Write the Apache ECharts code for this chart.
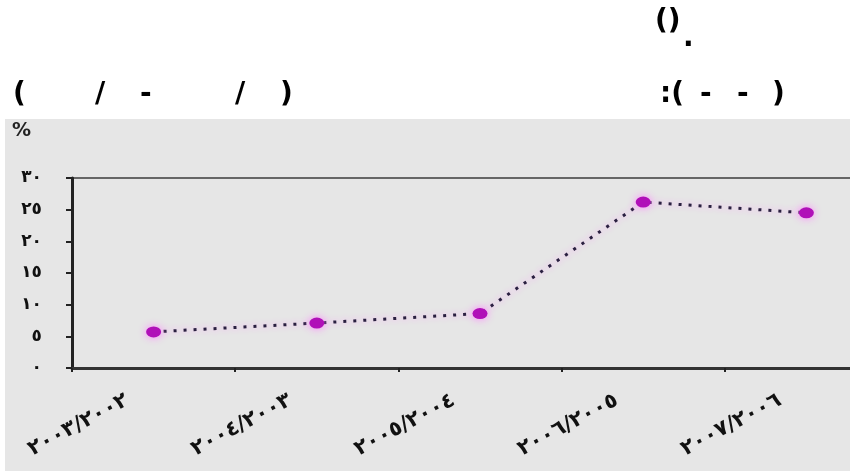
<!DOCTYPE html>
<html>
<head>
<meta charset="utf-8">
<script src="https://cdn.jsdelivr.net/npm/echarts@6/dist/echarts.min.js"></script>
<style>html,body{margin:0;padding:0;background:#fff;}#chart{width:850px;height:471px;}</style>
</head>
<body>
<div id="chart"></div>
<script>
var categories = ['٢٠٠٣/٢٠٠٢', '٢٠٠٤/٢٠٠٣', '٢٠٠٥/٢٠٠٤', '٢٠٠٦/٢٠٠٥', '٢٠٠٧/٢٠٠٦'];
var values = [5.7, 7.1, 8.6, 26.2, 24.5];
var yTickValues = [0, 5, 10, 15, 20, 25, 30];
var yTickLabels = ['٠', '٥', '١٠', '١٥', '٢٠', '٢٥', '٣٠'];
var unitLabel = '%';
var titleTexts = [
  {t: '()', x: 655, y: 22},
  {t: '.', x: 683, y: 39},
  {t: '(', x: 13, y: 95},
  {t: '/', x: 95, y: 95},
  {t: '-', x: 140, y: 95},
  {t: '/', x: 235, y: 95},
  {t: ')', x: 280, y: 95},
  {t: ':(', x: 660, y: 95},
  {t: '-', x: 700, y: 95},
  {t: '-', x: 737, y: 95},
  {t: ')', x: 772, y: 95}
];

var chart = echarts.init(document.getElementById('chart'), null, {renderer: 'canvas'});
var graphics = [{
  type: 'rect', z: -10, silent: true,
  shape: {x: 5, y: 119, width: 845, height: 352},
  style: {fill: '#e6e6e6'}
}, {
  type: 'text', left: 12, top: 122,
  style: {text: unitLabel, font: 'bold 19px "DejaVu Sans"', fill: '#222'}
}];
titleTexts.forEach(function (o) {
  graphics.push({
    type: 'text', x: o.x, y: o.y,
    style: {text: o.t, font: 'bold 28px "DejaVu Sans"', fill: '#000', verticalAlign: 'middle'}
  });
});

chart.setOption({
  animation: false,
  backgroundColor: '#ffffff',
  graphic: graphics,
  grid: {left: 72, width: 816, top: 178, height: 190, outerBoundsMode: 'none', containLabel: false,
    show: true, borderColor: '#666', borderWidth: 2, backgroundColor: 'transparent'},
  xAxis: {
    type: 'category', data: categories, boundaryGap: true,
    axisLine: {lineStyle: {color: '#333', width: 3}},
    axisTick: {show: true, length: 4, lineStyle: {color: '#222', width: 2}},
    axisLabel: {rotate: 28, margin: 17, padding: [0, 30, 0, 0], interval: 0,
      fontSize: 21, fontWeight: 'bold', fontFamily: 'DejaVu Sans', color: '#111'}
  },
  yAxis: {
    type: 'value', min: 0, max: 30, interval: 5,
    axisLine: {show: true, lineStyle: {color: '#222', width: 3}},
    axisTick: {show: true, length: 6, lineStyle: {color: '#222', width: 2}},
    splitLine: {show: false},
    axisLabel: {margin: 30, fontSize: 17, fontWeight: 'bold', fontFamily: 'DejaVu Sans', color: '#111',
      formatter: function (v) { var i = yTickValues.indexOf(v); return i >= 0 ? yTickLabels[i] : ''; }}
  },
  series: [{
    type: 'line', data: values,
    symbol: 'circle', symbolSize: [15, 11],
    itemStyle: {color: '#b010b8', shadowColor: '#ff80ff', shadowBlur: 8},
    lineStyle: {color: '#2a2040', width: 3, type: [3, 7], shadowColor: '#ff88ff', shadowBlur: 6}
  }]
});
</script>
</body>
</html>
